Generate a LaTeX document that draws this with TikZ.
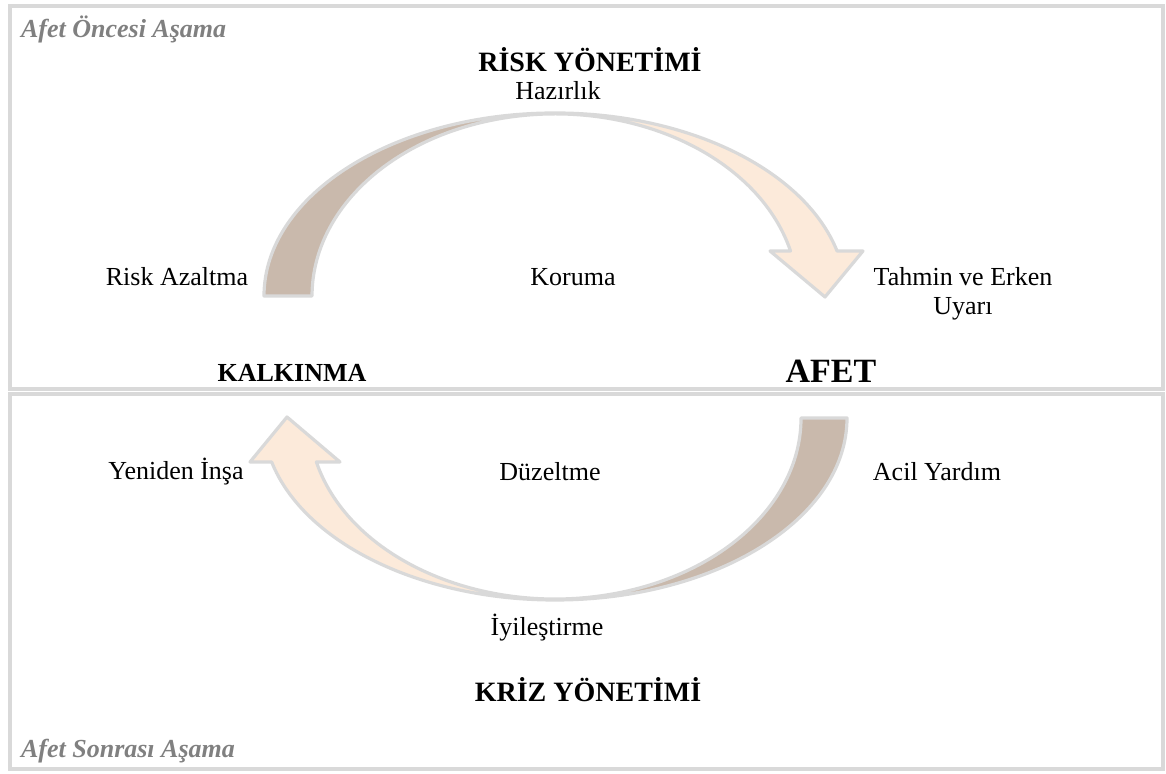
\documentclass[tikz,border=0pt]{standalone}
\usepackage{fontspec}
\setmainfont{Liberation Serif}
\usepackage{tikz}
\definecolor{framegray}{RGB}{217,217,217}
\definecolor{tailbrown}{RGB}{201,185,172}
\definecolor{headpeach}{RGB}{252,234,218}
\definecolor{phasegray}{RGB}{128,128,128}

\begin{document}
\begin{tikzpicture}[x=0.5pt,y=0.5pt,
  box/.style={draw=framegray,line width=2pt},
  arrowline/.style={draw=framegray,line width=1.6pt,line join=round},
  txt/.style={font=\fontsize{13}{14.5}\selectfont,align=center},
  bold/.style={font=\fontsize{13}{16}\selectfont\bfseries},
  title/.style={font=\fontsize{14}{17}\selectfont\bfseries},
  phase/.style={font=\fontsize{13}{16}\selectfont\bfseries\itshape,text=phasegray,anchor=west}]
\useasboundingbox (0,0) rectangle (1166,774);
\draw [box] (10,768) rectangle (1163,385);
\draw [box] (10,380) rectangle (1163,5);
\fill [tailbrown] (264,478) arc[start angle=180,end angle=90,x radius=291,y radius=183]
  arc[start angle=90,end angle=180,x radius=243,y radius=182] -- cycle;
\fill [headpeach] (555,661) arc[start angle=90,end angle=14.2,x radius=291,y radius=183]
  -- (863,523) -- (825,477) -- (770,523) -- (790.5,523)
  arc[start angle=14.3,end angle=90,x radius=243,y radius=182] -- cycle;
\draw [arrowline] (264,478) arc[start angle=180,end angle=14.2,x radius=291,y radius=183]
  -- (863,523) -- (825,477) -- (770,523) -- (790.5,523)
  arc[start angle=14.3,end angle=180,x radius=243,y radius=182] -- cycle;
\fill [tailbrown] (847,356) arc[start angle=0,end angle=-90,x radius=292,y radius=182]
  arc[start angle=-90,end angle=0,x radius=246,y radius=181] -- cycle;
\fill [headpeach] (555,174) arc[start angle=270,end angle=194,x radius=292,y radius=182]
  -- (250,312) -- (287,357) -- (340,312) -- (316.4,312)
  arc[start angle=194.07,end angle=270,x radius=246,y radius=181] -- cycle;
\draw [arrowline] (847,356) arc[start angle=360,end angle=194,x radius=292,y radius=182]
  -- (250,312) -- (287,357) -- (340,312) -- (316.4,312)
  arc[start angle=194.07,end angle=360,x radius=246,y radius=181] -- cycle;
\node (once) at (14,745) [phase] {Afet Öncesi Aşama};
\node (risk) at (590,714) [title] {RİSK YÖNETİMİ};
\node (hazir) at (558,683) [txt] {Hazırlık};
\node (azalt) at (177,497) [txt] {Risk Azaltma};
\node (koruma) at (573,497) [txt] {Koruma};
\node (tahmin) at (963,480) [txt] {Tahmin ve Erken\\Uyarı};
\node (kalk) at (292,401) [bold] {KALKINMA};
\node (afet) at (831,403) [font=\fontsize{17}{20}\selectfont\bfseries] {AFET};
\node (yeniden) at (176,302) [txt] {Yeniden İnşa};
\node (duzelt) at (550,302) [txt] {Düzeltme};
\node (acil) at (937,302) [txt] {Acil Yardım};
\node (iyiles) at (547,146) [txt] {İyileştirme};
\node (kriz) at (588,84) [title] {KRİZ YÖNETİMİ};
\node (sonra) at (14,23) [phase] {Afet Sonrası Aşama};
\end{tikzpicture}
\end{document}
